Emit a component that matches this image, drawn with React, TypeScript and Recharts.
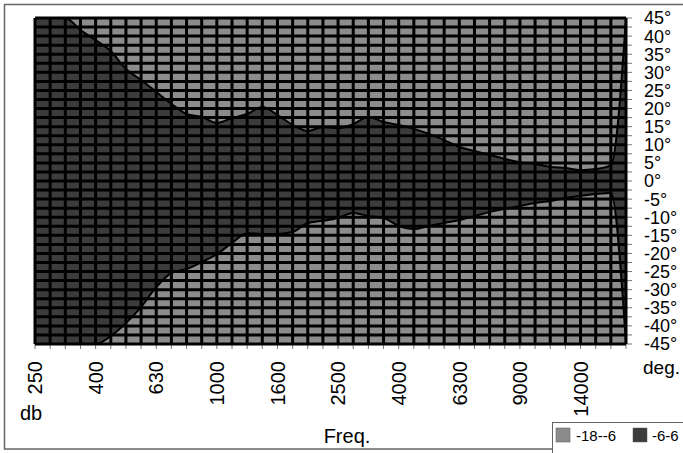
import React from "react";
import { ComposedChart, Area, XAxis, YAxis, CartesianGrid } from "recharts";

// frequency bands (Hz), 1/6 octave steps
const freqs = [
  "250", "280", "315", "355", "400", "450", "500", "560", "630", "710",
  "800", "900", "1000", "1120", "1250", "1400", "1600", "1800", "2000", "2240",
  "2500", "2800", "3150", "3550", "4000", "4500", "5000", "5600", "6300", "7100",
  "7500", "8000", "9000", "10000", "11200", "12500", "14000", "16000", "18000", "20000",
];
const labeledFreqs = ["250", "400", "630", "1000", "1600", "2500", "4000", "6300", "9000", "14000"];

// -6..6 db zone, upper / lower angle per band
const upper = [
  45, 45, 45, 41.7, 38.9, 35.9, 30.9, 27.9, 24.6, 21.3,
  18.5, 17.7, 16, 17.4, 18.5, 20.4, 18.2, 15.5, 13.8, 14.9,
  14.6, 15.7, 17.7, 16.3, 15.5, 14.4, 13, 11.3, 9.4, 8.3,
  7.2, 6.1, 5.2, 4.7, 3.9, 3.6, 3.0, 3.3, 4.4, 45,
];
const lower = [
  -45, -45, -45, -45, -45, -42.8, -39.2, -34.8, -29.3, -25.4,
  -24.3, -22.4, -20.2, -17.1, -14.4, -14.6, -14.6, -14.1, -11.6, -11,
  -10.2, -8.8, -9.7, -10.2, -12.4, -13.3, -12.4, -11.6, -10.8, -9.7,
  -8.6, -7.7, -6.9, -6.1, -5.5, -4.7, -4.1, -3.6, -3.3, -45,
];

const degLabels = [45, 40, 35, 30, 25, 20, 15, 10, 5, 0, -5, -10, -15, -20, -25, -30, -35, -40, -45];

const zones = [
  { name: "-18--6", color: "#8c8c8c" },
  { name: "-6-6", color: "#3c3c3c" },
];

const FONT = "'Liberation Sans', Arial, sans-serif";

const data = freqs.map((f, i) => ({ idx: i, freq: f, band: [lower[i], upper[i]] }));
const xTicks = freqs.map((_, i) => i);
// grid rows every 2.5 deg
const yGrid = degLabels.flatMap((d) => (d > -45 ? [d, d - 2.5] : [d]));

const FreqTick = (props: any) => {
  const { x, y, payload } = props;
  const f = freqs[payload.value];
  if (!labeledFreqs.includes(f)) return null;
  return (
    <g transform={`translate(${x},${y})`}>
      <text
        transform="rotate(-90)"
        textAnchor="end"
        dy="0.36em"
        fontSize={20}
        fontFamily={FONT}
        fill="#000"
      >
        {f}
      </text>
    </g>
  );
};

const DegTick = (props: any) => {
  const { x, y, payload } = props;
  if (payload.value % 5 !== 0) return null;
  return (
    <text x={x} y={y} dy="0.36em" textAnchor="start" fontSize={18} fontFamily={FONT} fill="#000">
      {`${payload.value}°`}
    </text>
  );
};

export default function App() {
  return (
    <div
      style={{
        position: "fixed",
        left: 0,
        top: 0,
        width: 683,
        height: 453,
        overflow: "hidden",
        background: "#fff",
        fontFamily: FONT,
      }}
    >
      <ComposedChart
        width={683}
        height={453}
        data={data}
        margin={{ top: 18, right: 0, left: 35, bottom: 39 }}
        style={{ position: "absolute", left: 0, top: 0 }}
      >
        <CartesianGrid horizontal={false} vertical={false} fill={zones[0].color} fillOpacity={1} />
        <XAxis
          type="number"
          dataKey="idx"
          domain={[0, freqs.length - 1]}
          ticks={xTicks}
          interval={0}
          height={70}
          axisLine={false}
          tickSize={5}
          tickMargin={12}
          tickLine={{ stroke: "#777" }}
          tick={(p: any) => <FreqTick {...p} />}
        />
        <YAxis
          type="number"
          orientation="right"
          domain={[-45, 45]}
          ticks={yGrid}
          interval={0}
          width={57}
          axisLine={false}
          tickSize={6}
          tickMargin={12}
          tickLine={{ stroke: "#777" }}
          tick={(p: any) => <DegTick {...p} />}
        />
        <Area
          type="monotone"
          dataKey="band"
          name={zones[1].name}
          fill={zones[1].color}
          fillOpacity={1}
          stroke="#000"
          strokeWidth={2}
          dot={false}
          activeDot={false}
          isAnimationActive={false}
        />
        <CartesianGrid
          stroke="#000"
          strokeWidth={3}
          horizontalValues={yGrid}
          verticalValues={xTicks}
          fill="none"
          zIndex={600}
        />
      </ComposedChart>

      <svg
        width={683}
        height={453}
        style={{ position: "absolute", left: 0, top: 0, pointerEvents: "none" }}
      >
        <rect x={4.5} y={4.5} width={720} height={444.5} fill="none" stroke="#666" strokeWidth={1.5} />
        <text x={20} y={420} fontSize={20} fontFamily={FONT} fill="#000">db</text>
        <text x={347} y={443} fontSize={20} fontFamily={FONT} fill="#000" textAnchor="middle">Freq.</text>
        <text x={643} y={374} fontSize={19} fontFamily={FONT} fill="#000">deg.</text>
        <rect x={552.5} y={422.5} width={160} height={40} fill="#fff" stroke="#666" strokeWidth={1} />
        {zones.map((z, i) => (
          <g key={z.name}>
            <rect x={556 + i * 77} y={428} width={14} height={14} fill={z.color} stroke="#555" strokeWidth={0.5} />
            <text x={576 + i * 76} y={441} fontSize={15} fontFamily={FONT} fill="#000">
              {z.name}
            </text>
          </g>
        ))}
      </svg>
    </div>
  );
}
